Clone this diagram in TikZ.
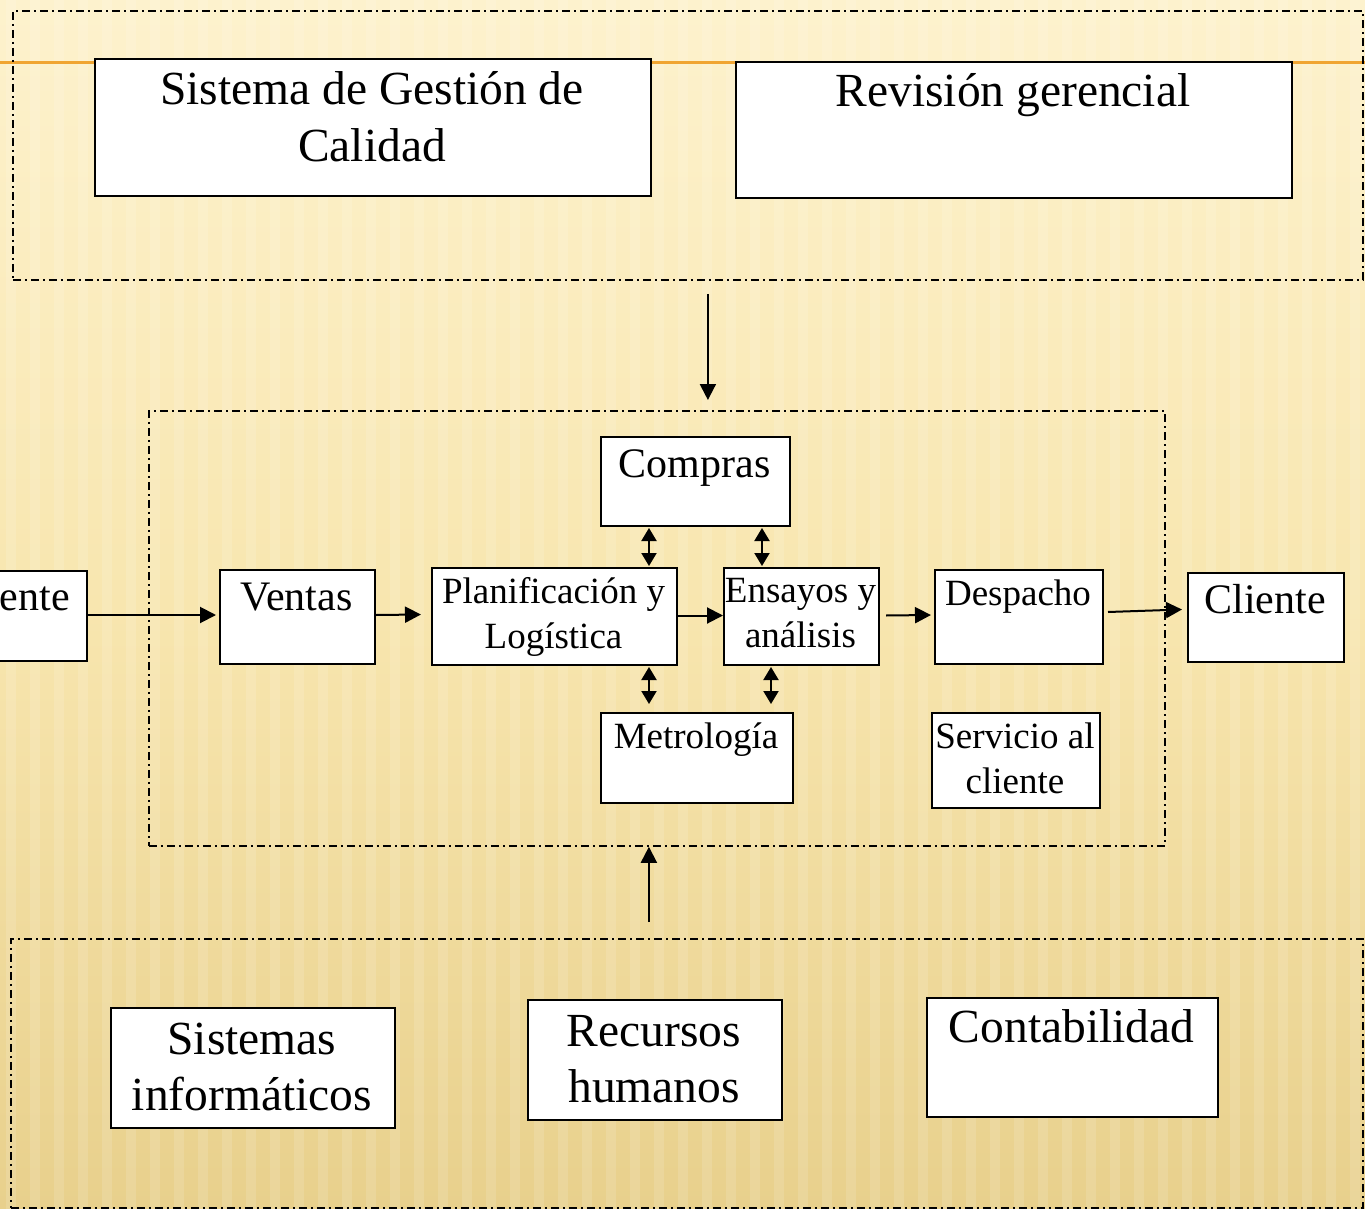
\documentclass[tikz,border=0pt]{standalone}
\usepackage{fontspec}
\setmainfont{Liberation Serif}
\usetikzlibrary{arrows.meta}
\definecolor{bgtop}{RGB}{253,242,205}
\definecolor{bgmid}{RGB}{248,230,175}
\definecolor{bgbot}{RGB}{232,208,140}
\definecolor{orangeline}{RGB}{240,165,50}
\begin{document}
\begin{tikzpicture}[x=1pt,y=-1pt,
  box/.style={draw=black, line width=2pt, fill=white, rectangle, inner sep=0pt, anchor=north west},
  framebox/.style={draw=black, line width=1.8pt, dash pattern=on 8pt off 4pt on 2pt off 4pt, rectangle, inner sep=0pt, anchor=north west},
  big/.style={font=\fontsize{47.5}{57}\selectfont, inner sep=0pt, anchor=base},
  med/.style={font=\fontsize{42}{50}\selectfont, inner sep=0pt, anchor=base},
  sml/.style={font=\fontsize{37}{44}\selectfont, inner sep=0pt, anchor=base},
  arr/.style={line width=2pt, -{Triangle[length=16pt,width=16pt]}},
  darr/.style={line width=2pt, {Triangle[length=13pt,width=15pt]}-{Triangle[length=13pt,width=15pt]}},
]
\useasboundingbox (0,0) rectangle (1365,1209);
\clip (0,0) rectangle (1365,1209);
% background
\shade[top color=bgtop, bottom color=bgbot, middle color=bgmid] (0,0) rectangle (1365,1209);
\foreach \i in {0,...,56} {
  \fill[white, opacity=0.13] (\i*24+6,0) rectangle ++(10,1209);
}
% orange title line
\draw[orangeline, line width=3pt] (0,63) -- (1365,63);

% frames
\node[framebox, minimum width=1350pt, minimum height=269pt] (topf) at (12,10) {};
\node[framebox, minimum width=1016pt, minimum height=435pt] (midf) at (148,410) {};
\node[framebox, minimum width=1352pt, minimum height=269pt] (botf) at (10,938) {};

% top boxes
\node[box, minimum width=556pt, minimum height=137pt] (sgc) at (94,58) {};
\node[big] (sgct1) at (372,105) {Sistema de Gestión de};
\node[big] (sgct2) at (372,162) {Calidad};
\node[box, minimum width=556pt, minimum height=136pt] (rev) at (735,61) {};
\node[big] (revt) at (1013,107) {Revisión gerencial};

% middle boxes
\node[box, minimum width=189pt, minimum height=89pt] (comp) at (600,436) {};
\node[med] (compt) at (694.5,477) {Compras};
\node[box, minimum width=146pt, minimum height=90pt] (ente) at (-60,570) {};
\node[med, anchor=base east] (entet) at (70,610) {ente};
\node[box, minimum width=155pt, minimum height=94pt] (ventas) at (219,569) {};
\node[med] (ventast) at (296.5,610) {Ventas};
\node[box, minimum width=245pt, minimum height=97pt] (plan) at (431,567) {};
\node[sml] (plant1) at (553.5,603) {Planificación y};
\node[sml] (plant2) at (553.5,648) {Logística};
\node[box, minimum width=155pt, minimum height=97pt] (ens) at (723,567) {};
\node[sml] (enst1) at (800.5,602) {Ensayos y};
\node[sml] (enst2) at (800.5,647) {análisis};
\node[box, minimum width=168pt, minimum height=94pt] (desp) at (934,569) {};
\node[sml] (despt) at (1018,605) {Despacho};
\node[box, minimum width=156pt, minimum height=89pt] (cli) at (1187,572) {};
\node[med] (clit) at (1265,613) {Cliente};
\node[box, minimum width=192pt, minimum height=90pt] (metro) at (600,712) {};
\node[sml] (metrot) at (696,748) {Metrología};
\node[box, minimum width=168pt, minimum height=95pt] (serv) at (931,712) {};
\node[sml] (servt1) at (1015,748) {Servicio al};
\node[sml] (servt2) at (1015,793) {cliente};

% bottom boxes
\node[box, minimum width=284pt, minimum height=120pt] (sist) at (110,1007) {};
\node[big] (sistt1) at (252,1054) {Sistemas};
\node[big] (sistt2) at (252,1110) {informáticos};
\node[box, minimum width=254pt, minimum height=120pt] (rrhh) at (527,999) {};
\node[big] (rrhht1) at (654,1046) {Recursos};
\node[big] (rrhht2) at (654,1102) {humanos};
\node[box, minimum width=291pt, minimum height=119pt] (cont) at (926,997) {};
\node[big] (contt) at (1071.5,1042) {Contabilidad};

% vertical arrows between frames
\draw[arr] ([xshift=20pt,yshift=-13pt]topf.south) -- ([xshift=51pt,yshift=10pt]midf.north);
\draw[arr] ([xshift=-38pt,yshift=16pt]botf.north) -- ([xshift=-8pt]midf.south);

% horizontal flow
\draw[arr] ([yshift=1pt]ente.east) -- ([xshift=-3pt,yshift=2pt]ventas.west);
\draw[arr] ([yshift=2pt]ventas.east) -- ([xshift=-10pt,yshift=2pt]plan.west);
\draw[arr] ([yshift=1pt]plan.east) -- ([yshift=1pt]ens.west);
\draw[arr] ([xshift=6pt,yshift=1pt]ens.east) -- ([xshift=-3pt,yshift=2pt]desp.west);
\draw[arr] ([xshift=4pt,yshift=5pt]desp.east) -- ([xshift=-5pt,yshift=8pt]cli.west);

% double arrows
\draw[darr] ([xshift=-46.5pt,yshift=-1pt]comp.south) -- ([xshift=94.5pt,yshift=1pt]plan.north);
\draw[darr] ([xshift=66.5pt,yshift=-1pt]comp.south) -- ([xshift=-39.5pt,yshift=1pt]ens.north);
\draw[darr] ([xshift=94.5pt,yshift=-1pt]plan.south) -- ([xshift=-48pt,yshift=8pt]metro.north);
\draw[darr] ([xshift=-30.5pt,yshift=-1pt]ens.south) -- ([xshift=74pt,yshift=8pt]metro.north);
\end{tikzpicture}
\end{document}
